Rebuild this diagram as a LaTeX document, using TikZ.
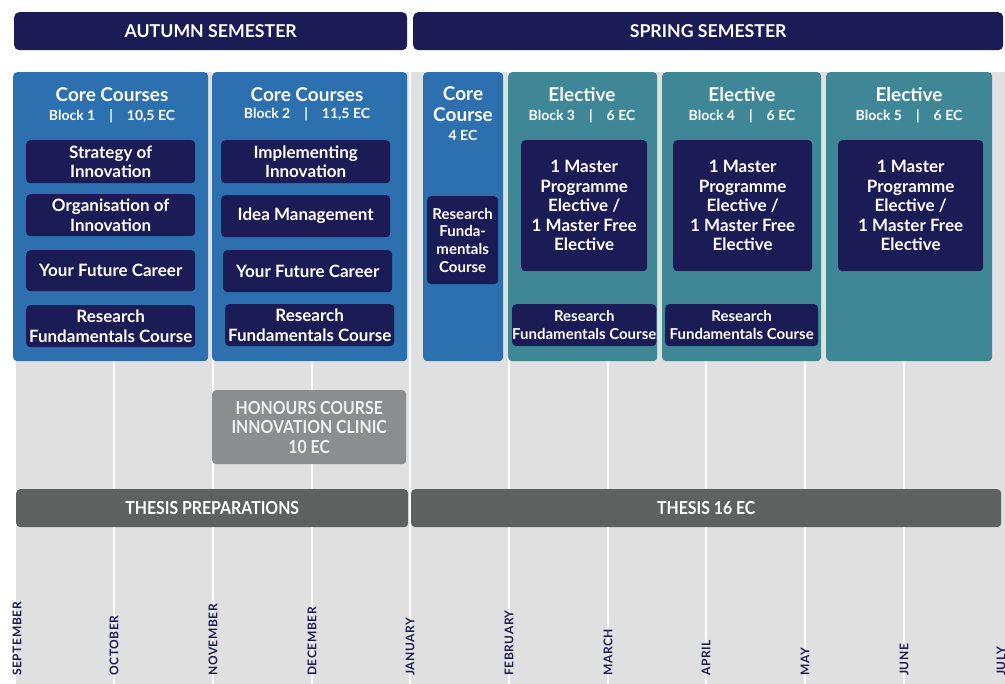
\documentclass[tikz,border=0pt]{standalone}
\usepackage{fontspec}
\setmainfont{Lato}
\definecolor{navy}{HTML}{1B1B55}
\definecolor{coreblue}{HTML}{2C70AF}
\definecolor{teal}{HTML}{3F8797}
\definecolor{bggray}{HTML}{E0E0E0}
\definecolor{darkbar}{HTML}{5F6161}
\definecolor{honour}{HTML}{8B8D8F}
\tikzset{
  sem/.style={fill=navy, rounded corners=5pt, text=white, inner sep=0pt, font=\bfseries\fontsize{17.7}{20}\selectfont},
  coreblk/.style={fill=coreblue, rounded corners=4pt, inner sep=0pt},
  elblk/.style={fill=teal, rounded corners=4pt, inner sep=0pt},
  inbox/.style={fill=navy, rounded corners=4pt, text=white, align=center, inner sep=0pt, font=\bfseries\fontsize{17}{19.5}\selectfont},
  title/.style={text=white, inner sep=0pt, font=\bfseries\fontsize{19}{21}\selectfont},
  sub/.style={text=white, inner sep=0pt, font=\bfseries\fontsize{14}{16}\selectfont},
  bar/.style={fill=darkbar, rounded corners=4pt, text=white, inner sep=0pt, font=\bfseries\fontsize{18}{20}\selectfont},
  hon/.style={fill=honour, rounded corners=4pt, text=white!94!black, inner sep=0pt, align=center, font=\bfseries\fontsize{18}{19.5}\selectfont},
  month/.style={rotate=90, text=navy, inner sep=0pt, font=\bfseries\fontsize{12}{14}\selectfont\addfontfeatures{LetterSpace=5}},
  vline/.style={white, line width=2pt}
}
\newcommand{\cond}[1]{\scalebox{0.88}[1]{#1}}
\begin{document}
\begin{tikzpicture}[x=1pt,y=-1pt]
\useasboundingbox (0,0) rectangle (1005,684);
\clip (0,0) rectangle (1005,684);
\fill[white] (0,0) rectangle (1005,684);
\fill[bggray] (16,72) rectangle (1005,684);
% month grid
\foreach \x in {114,213,312,410,509,608,706,805,904}{
  \draw[vline] (\x,72) -- (\x,684);
}
% semesters
\node[sem, minimum width=393pt, minimum height=38pt, anchor=north west] (aut) at (14,12) {AUTUMN SEMESTER};
\node[sem, minimum width=590pt, minimum height=38pt, anchor=north west] (spr) at (413,12) {SPRING SEMESTER};
% blocks
\node[coreblk, minimum width=195pt, minimum height=289pt, anchor=north west] (b1) at (13,72) {};
\node[coreblk, minimum width=195pt, minimum height=289pt, anchor=north west] (b2) at (212,72) {};
\node[coreblk, minimum width=80pt, minimum height=289pt, anchor=north west] (cc) at (423,72) {};
\node[elblk, minimum width=149pt, minimum height=289pt, anchor=north west] (e3) at (508,72) {};
\node[elblk, minimum width=159pt, minimum height=289pt, anchor=north west] (e4) at (662,72) {};
\node[elblk, minimum width=166pt, minimum height=289pt, anchor=north west] (e5) at (826,72) {};
% titles
\node[title] (t1) at (112,95) {Core Courses};
\node[sub] (s1) at (112,116) {Block 1\quad|\quad10,5 EC};
\node[title] (t2) at (307,95) {Core Courses};
\node[sub] (s2) at (307,114) {Block 2\quad|\quad11,5 EC};
\node[title] (tc1) at (463,94) {Core};
\node[title] (tc2) at (463,115) {Course};
\node[sub] (sc) at (463,135) {4 EC};
\node[title] (t3) at (582,95) {Elective};
\node[sub] (s3) at (582,116) {Block 3\quad|\quad6 EC};
\node[title] (t4) at (742,95) {Elective};
\node[sub] (s4) at (742,116) {Block 4\quad|\quad6 EC};
\node[title] (t5) at (909,95) {Elective};
\node[sub] (s5) at (909,116) {Block 5\quad|\quad6 EC};
% block 1 courses
\node[inbox, minimum width=169pt, minimum height=43pt, anchor=north west] (c11) at (26,140) {Strategy of\\Innovation};
\node[inbox, minimum width=169pt, minimum height=42pt, anchor=north west] (c12) at (26,194) {Organisation of\\Innovation};
\node[inbox, minimum width=169pt, minimum height=41pt, anchor=north west] (c13) at (26,250) {Your Future Career};
\node[inbox, minimum width=169pt, minimum height=42pt, anchor=north west] (c14) at (26,305) {Research\\Fundamentals Course};
% block 2 courses
\node[inbox, minimum width=169pt, minimum height=43pt, anchor=north west] (c21) at (221,140) {Implementing\\Innovation};
\node[inbox, minimum width=169pt, minimum height=42pt, anchor=north west] (c22) at (221,195) {Idea Management};
\node[inbox, minimum width=169pt, minimum height=42pt, anchor=north west] (c23) at (223,250) {Your Future Career};
\node[inbox, minimum width=169pt, minimum height=42pt, anchor=north west] (c24) at (225,304) {Research\\Fundamentals Course};
% core course
\node[inbox, minimum width=71pt, minimum height=88pt, anchor=north west, font=\bfseries\fontsize{15}{17.7}\selectfont] (cr) at (427,196) {Research\\Funda-\\mentals\\Course};
% electives
\node[inbox, minimum width=126pt, minimum height=131pt, anchor=north west] (el3) at (521,140) {1 Master\\Programme\\Elective /\\1 Master Free\\Elective};
\node[inbox, minimum width=140pt, minimum height=42pt, anchor=north west, font=\bfseries\fontsize{15}{18}\selectfont] (r3) at (512,304) {Research\\Fundamentals Course};
\node[inbox, minimum width=139pt, minimum height=131pt, anchor=north west] (el4) at (673,140) {1 Master\\Programme\\Elective /\\1 Master Free\\Elective};
\node[inbox, minimum width=153pt, minimum height=42pt, anchor=north west, font=\bfseries\fontsize{15}{18}\selectfont] (r4) at (665,304) {Research\\Fundamentals Course};
\node[inbox, minimum width=145pt, minimum height=131pt, anchor=north west] (el5) at (838,140) {1 Master\\Programme\\Elective /\\1 Master Free\\Elective};
% honours and thesis
\node[hon, minimum width=194pt, minimum height=74pt, anchor=north west] (hc) at (212,390) {\cond{HONOURS COURSE}\\\cond{INNOVATION CLINIC}\\\cond{10 EC}};
\node[bar, minimum width=392pt, minimum height=38pt, anchor=north west] (tp) at (16,489) {\cond{THESIS PREPARATIONS}};
\node[bar, minimum width=590pt, minimum height=38pt, anchor=north west] (th) at (411,489) {\cond{THESIS 16 EC}};
% months
\node[month, anchor=west] (m1) at (17,676) {SEPTEMBER};
\node[month, anchor=west] (m2) at (114,676) {OCTOBER};
\node[month, anchor=west] (m3) at (213,676) {NOVEMBER};
\node[month, anchor=west] (m4) at (312,676) {DECEMBER};
\node[month, anchor=west] (m5) at (410,676) {JANUARY};
\node[month, anchor=west] (m6) at (509,676) {FEBRUARY};
\node[month, anchor=west] (m7) at (608,676) {MARCH};
\node[month, anchor=west] (m8) at (706,676) {APRIL};
\node[month, anchor=west] (m9) at (805,676) {MAY};
\node[month, anchor=west] (m10) at (904,676) {JUNE};
\node[month, anchor=west] (m11) at (1001,676) {JULY};
\end{tikzpicture}
\end{document}
